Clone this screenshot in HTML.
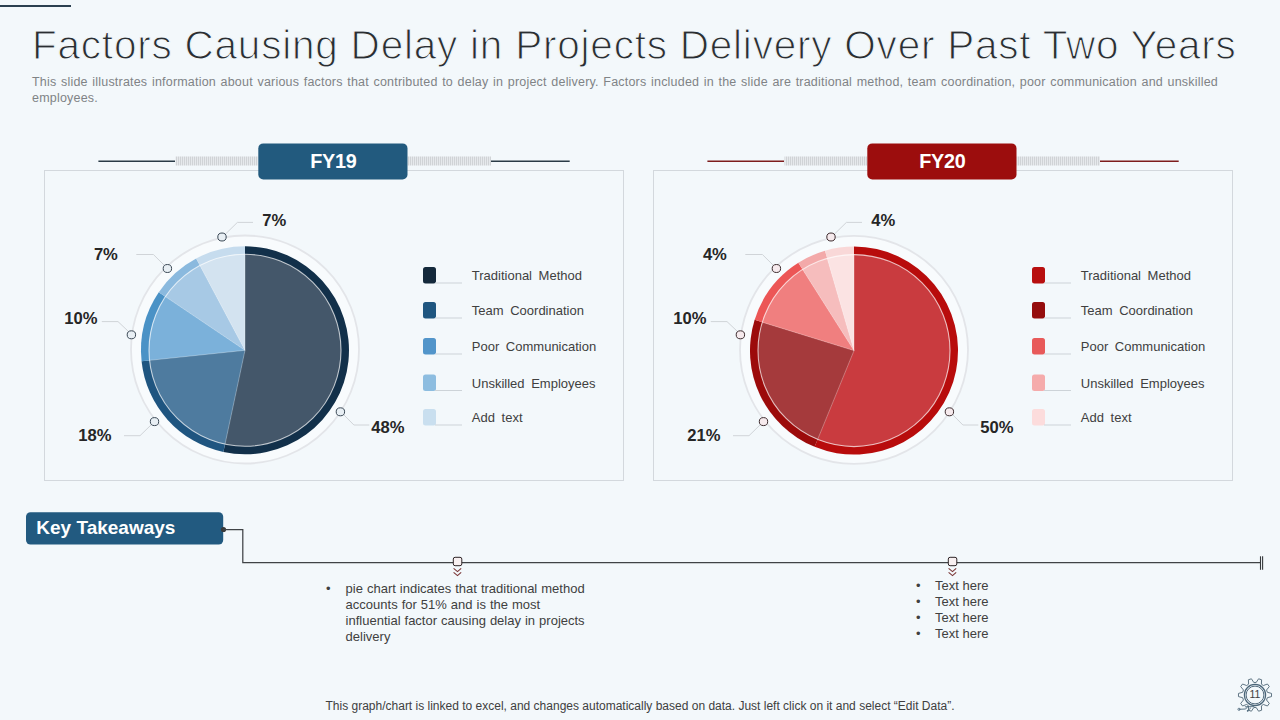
<!DOCTYPE html>
<html><head><meta charset="utf-8"><style>
html,body{margin:0;padding:0;}
body{width:1280px;height:720px;position:relative;overflow:hidden;background:#f3f8fb;font-family:"Liberation Sans",sans-serif;}
.pct{font-family:"Liberation Sans",sans-serif;font-weight:700;font-size:16.6px;fill:#262626;}
.leg{font-family:"Liberation Sans",sans-serif;font-size:13px;fill:#404040;word-spacing:3px;}
.fy{font-family:"Liberation Sans",sans-serif;font-weight:700;font-size:19.8px;letter-spacing:-0.3px;fill:#ffffff;}
.gn{font-family:"Liberation Sans",sans-serif;font-size:10.6px;fill:#404040;}
.kt{font-family:"Liberation Sans",sans-serif;font-weight:700;font-size:19px;fill:#ffffff;}
#title{position:absolute;left:32px;top:20.6px;font-size:40.5px;color:#2a2e32;white-space:nowrap;letter-spacing:0.78px;line-height:48px;-webkit-text-stroke:1.1px #f3f8fb;}
#sub{position:absolute;left:32px;top:75.4px;width:1186px;font-size:12.5px;color:#808386;line-height:15.6px;letter-spacing:0.2px;text-align:justify;text-align-last:left;}
.bl{position:absolute;font-size:13px;color:#404040;line-height:16px;}
.bl .dot{position:absolute;left:0;}
#foot{position:absolute;left:325.5px;top:698.2px;font-size:12px;color:#404040;white-space:nowrap;line-height:16px;}
</style></head><body>
<svg width="1280" height="720" viewBox="0 0 1280 720" style="position:absolute;left:0;top:0">
<defs>
<pattern id="hatch" patternUnits="userSpaceOnUse" width="2" height="9" x="0" y="156.5">
<rect x="0" y="0" width="1" height="9" fill="#d0d3d6"/>
<rect x="1" y="0" width="1" height="9" fill="#e6e9ec"/>
</pattern>
</defs>
<line x1="0" y1="6" x2="71" y2="6" stroke="#2b4050" stroke-width="2"/>
<rect x="44.5" y="170.5" width="579" height="310" fill="none" stroke="#d3d8dd" stroke-width="1"/>
<rect x="653.5" y="170.5" width="579" height="310" fill="none" stroke="#d3d8dd" stroke-width="1"/>
<line x1="98.4" y1="161.3" x2="175" y2="161.3" stroke="#2a3b47" stroke-width="1.4"/>
<line x1="491" y1="161.3" x2="569.7" y2="161.3" stroke="#2a3b47" stroke-width="1.4"/>
<rect x="175.5" y="156.5" width="82.5" height="9" fill="url(#hatch)"/>
<rect x="407.5" y="156.5" width="83.5" height="9" fill="url(#hatch)"/>
<rect x="258.3" y="143.4" width="149.2" height="36.1" rx="5" fill="#225a7e"/>
<text x="333.3" y="167.9" class="fy" text-anchor="middle">FY19</text>
<line x1="707.4" y1="161.3" x2="784" y2="161.3" stroke="#7e1d1d" stroke-width="1.4"/>
<line x1="1100" y1="161.3" x2="1178.7" y2="161.3" stroke="#7e1d1d" stroke-width="1.4"/>
<rect x="784.5" y="156.5" width="82.5" height="9" fill="url(#hatch)"/>
<rect x="1016.5" y="156.5" width="83.5" height="9" fill="url(#hatch)"/>
<rect x="867.3" y="143.4" width="149.2" height="36.1" rx="5" fill="#9c0d0d"/>
<text x="942.3" y="167.9" class="fy" text-anchor="middle">FY20</text>
<circle cx="245" cy="349.5" r="114" fill="#f8fbfd" stroke="#e3e5e9" stroke-width="1.8"/>
<path d="M245.00,350.30 L245.00,246.30 A104,104 0 1 1 223.38,452.03 Z" fill="#12304a"/>
<path d="M245.00,350.30 L223.38,452.03 A104,104 0 0 1 141.57,361.17 Z" fill="#1f5580"/>
<path d="M245.00,350.30 L141.57,361.17 A104,104 0 0 1 158.78,292.14 Z" fill="#4a92c6"/>
<path d="M245.00,350.30 L158.78,292.14 A104,104 0 0 1 196.17,258.47 Z" fill="#8ab9de"/>
<path d="M245.00,350.30 L196.17,258.47 A104,104 0 0 1 245.00,246.30 Z" fill="#c6dcee"/>
<path d="M245.00,350.30 L245.00,254.30 A96,96 0 1 1 225.04,444.20 Z" fill="#44576a"/>
<path d="M245.00,350.30 L225.04,444.20 A96,96 0 0 1 149.53,360.33 Z" fill="#4e7b9f"/>
<path d="M245.00,350.30 L149.53,360.33 A96,96 0 0 1 165.41,296.62 Z" fill="#7bb1da"/>
<path d="M245.00,350.30 L165.41,296.62 A96,96 0 0 1 199.93,265.54 Z" fill="#a7c9e5"/>
<path d="M245.00,350.30 L199.93,265.54 A96,96 0 0 1 245.00,254.30 Z" fill="#d3e3f0"/>
<line x1="245" y1="350.3" x2="245.00" y2="254.30" stroke="#ffffff" stroke-opacity="0.35" stroke-width="0.9"/>
<line x1="245" y1="350.3" x2="225.04" y2="444.20" stroke="#ffffff" stroke-opacity="0.35" stroke-width="0.9"/>
<line x1="245" y1="350.3" x2="149.53" y2="360.33" stroke="#ffffff" stroke-opacity="0.35" stroke-width="0.9"/>
<line x1="245" y1="350.3" x2="165.41" y2="296.62" stroke="#ffffff" stroke-opacity="0.35" stroke-width="0.9"/>
<line x1="245" y1="350.3" x2="199.93" y2="265.54" stroke="#ffffff" stroke-opacity="0.35" stroke-width="0.9"/>
<circle cx="245" cy="350.3" r="96" fill="none" stroke="#ffffff" stroke-opacity="0.7" stroke-width="1.1"/>
<polyline points="253.0,222.4 237.4,222.4 224.5,235.0" fill="none" stroke="#d0d4d8" stroke-width="1"/>
<polyline points="136.3,254.5 153.4,254.5 164.5,265.5" fill="none" stroke="#d0d4d8" stroke-width="1"/>
<polyline points="101.8,321.6 118.0,321.6 128.5,331.5" fill="none" stroke="#d0d4d8" stroke-width="1"/>
<polyline points="124.0,435.7 140.0,435.7 151.5,424.5" fill="none" stroke="#d0d4d8" stroke-width="1"/>
<polyline points="369.3,425.0 353.9,425.0 343.5,414.5" fill="none" stroke="#d0d4d8" stroke-width="1"/>
<ellipse cx="222.0" cy="237.0" rx="4.2" ry="4" fill="#e8eff4" stroke="#3a4855" stroke-width="1"/>
<ellipse cx="167.4" cy="268.5" rx="4.2" ry="4" fill="#e8eff4" stroke="#3a4855" stroke-width="1"/>
<ellipse cx="131.4" cy="334.8" rx="4.2" ry="4" fill="#e8eff4" stroke="#3a4855" stroke-width="1"/>
<ellipse cx="154.5" cy="421.6" rx="4.2" ry="4" fill="#e8eff4" stroke="#3a4855" stroke-width="1"/>
<ellipse cx="340.4" cy="411.8" rx="4.2" ry="4" fill="#e8eff4" stroke="#3a4855" stroke-width="1"/>
<circle cx="854" cy="349.8" r="114" fill="#f8fbfd" stroke="#e3e5e9" stroke-width="1.8"/>
<path d="M854.00,350.60 L854.00,246.60 A104,104 0 1 1 814.63,446.86 Z" fill="#b80c0c"/>
<path d="M854.00,350.60 L814.63,446.86 A104,104 0 0 1 754.65,319.86 Z" fill="#9c0b0b"/>
<path d="M854.00,350.60 L754.65,319.86 A104,104 0 0 1 798.34,262.75 Z" fill="#ec5656"/>
<path d="M854.00,350.60 L798.34,262.75 A104,104 0 0 1 825.02,250.72 Z" fill="#f3a9a9"/>
<path d="M854.00,350.60 L825.02,250.72 A104,104 0 0 1 854.00,246.60 Z" fill="#f9d8d8"/>
<path d="M854.00,350.60 L854.00,254.60 A96,96 0 1 1 817.65,439.45 Z" fill="#c93b3f"/>
<path d="M854.00,350.60 L817.65,439.45 A96,96 0 0 1 762.29,322.23 Z" fill="#a53a3c"/>
<path d="M854.00,350.60 L762.29,322.23 A96,96 0 0 1 802.62,269.51 Z" fill="#f07f7f"/>
<path d="M854.00,350.60 L802.62,269.51 A96,96 0 0 1 827.25,258.40 Z" fill="#f6bdbd"/>
<path d="M854.00,350.60 L827.25,258.40 A96,96 0 0 1 854.00,254.60 Z" fill="#fbe3e3"/>
<line x1="854" y1="350.6" x2="854.00" y2="254.60" stroke="#ffffff" stroke-opacity="0.35" stroke-width="0.9"/>
<line x1="854" y1="350.6" x2="817.65" y2="439.45" stroke="#ffffff" stroke-opacity="0.35" stroke-width="0.9"/>
<line x1="854" y1="350.6" x2="762.29" y2="322.23" stroke="#ffffff" stroke-opacity="0.35" stroke-width="0.9"/>
<line x1="854" y1="350.6" x2="802.62" y2="269.51" stroke="#ffffff" stroke-opacity="0.35" stroke-width="0.9"/>
<line x1="854" y1="350.6" x2="827.25" y2="258.40" stroke="#ffffff" stroke-opacity="0.35" stroke-width="0.9"/>
<circle cx="854" cy="350.6" r="96" fill="none" stroke="#ffffff" stroke-opacity="0.7" stroke-width="1.1"/>
<polyline points="862.0,222.4 846.4,222.4 833.5,235.0" fill="none" stroke="#d0d4d8" stroke-width="1"/>
<polyline points="745.3,254.5 762.4,254.5 773.5,265.5" fill="none" stroke="#d0d4d8" stroke-width="1"/>
<polyline points="710.8,321.6 727.0,321.6 737.5,331.5" fill="none" stroke="#d0d4d8" stroke-width="1"/>
<polyline points="733.0,435.7 749.0,435.7 760.5,424.5" fill="none" stroke="#d0d4d8" stroke-width="1"/>
<polyline points="978.3,425.0 962.9,425.0 952.5,414.5" fill="none" stroke="#d0d4d8" stroke-width="1"/>
<ellipse cx="831.0" cy="237.0" rx="4.2" ry="4" fill="#f6eaed" stroke="#3d2c2f" stroke-width="1"/>
<ellipse cx="776.4" cy="268.5" rx="4.2" ry="4" fill="#f6eaed" stroke="#3d2c2f" stroke-width="1"/>
<ellipse cx="740.4" cy="334.8" rx="4.2" ry="4" fill="#f6eaed" stroke="#3d2c2f" stroke-width="1"/>
<ellipse cx="763.5" cy="421.6" rx="4.2" ry="4" fill="#f6eaed" stroke="#3d2c2f" stroke-width="1"/>
<ellipse cx="949.4" cy="411.8" rx="4.2" ry="4" fill="#f6eaed" stroke="#3d2c2f" stroke-width="1"/>
<text x="262.2" y="226.3" class="pct">7%</text>
<text x="93.9" y="260.1" class="pct">7%</text>
<text x="64.2" y="324.1" class="pct">10%</text>
<text x="78.3" y="441.4" class="pct">18%</text>
<text x="371.3" y="433.3" class="pct">48%</text>
<text x="871.2" y="226.3" class="pct">4%</text>
<text x="702.9" y="260.1" class="pct">4%</text>
<text x="673.2" y="324.1" class="pct">10%</text>
<text x="687.3" y="441.4" class="pct">21%</text>
<text x="980.3" y="433.3" class="pct">50%</text>
<rect x="423" y="267" width="13" height="16.5" rx="2.5" fill="#14293b"/>
<line x1="435" y1="283" x2="462" y2="283" stroke="#cdd3d8" stroke-width="1"/>
<text x="471.8" y="280" class="leg">Traditional Method</text>
<rect x="423" y="302" width="13" height="16.5" rx="2.5" fill="#1f5680"/>
<line x1="435" y1="318" x2="462" y2="318" stroke="#cdd3d8" stroke-width="1"/>
<text x="471.8" y="315" class="leg">Team Coordination</text>
<rect x="423" y="338" width="13" height="16.5" rx="2.5" fill="#5295ca"/>
<line x1="435" y1="354" x2="462" y2="354" stroke="#cdd3d8" stroke-width="1"/>
<text x="471.8" y="351" class="leg">Poor Communication</text>
<rect x="423" y="374.5" width="13" height="16.5" rx="2.5" fill="#8dbde0"/>
<line x1="435" y1="390.5" x2="462" y2="390.5" stroke="#cdd3d8" stroke-width="1"/>
<text x="471.8" y="387.5" class="leg">Unskilled Employees</text>
<rect x="423" y="409" width="13" height="16.5" rx="2.5" fill="#c9dfef"/>
<line x1="435" y1="425" x2="462" y2="425" stroke="#cdd3d8" stroke-width="1"/>
<text x="471.8" y="422" class="leg">Add text</text>
<rect x="1032" y="267" width="13" height="16.5" rx="2.5" fill="#b80f0f"/>
<line x1="1044" y1="283" x2="1071" y2="283" stroke="#cdd3d8" stroke-width="1"/>
<text x="1080.8" y="280" class="leg">Traditional Method</text>
<rect x="1032" y="302" width="13" height="16.5" rx="2.5" fill="#950d0d"/>
<line x1="1044" y1="318" x2="1071" y2="318" stroke="#cdd3d8" stroke-width="1"/>
<text x="1080.8" y="315" class="leg">Team Coordination</text>
<rect x="1032" y="338" width="13" height="16.5" rx="2.5" fill="#e85a5a"/>
<line x1="1044" y1="354" x2="1071" y2="354" stroke="#cdd3d8" stroke-width="1"/>
<text x="1080.8" y="351" class="leg">Poor Communication</text>
<rect x="1032" y="374.5" width="13" height="16.5" rx="2.5" fill="#f5abab"/>
<line x1="1044" y1="390.5" x2="1071" y2="390.5" stroke="#cdd3d8" stroke-width="1"/>
<text x="1080.8" y="387.5" class="leg">Unskilled Employees</text>
<rect x="1032" y="409" width="13" height="16.5" rx="2.5" fill="#fcdcdc"/>
<line x1="1044" y1="425" x2="1071" y2="425" stroke="#cdd3d8" stroke-width="1"/>
<text x="1080.8" y="422" class="leg">Add text</text>
<rect x="26" y="512.2" width="197.2" height="32.3" rx="4.5" fill="#225a80"/>
<text x="36.3" y="533.8" class="kt">Key Takeaways</text>
<circle cx="223.5" cy="529.5" r="2.6" fill="#3a3a3a"/>
<polyline points="223,529.5 242.8,529.5 242.8,562.5 1260.5,562.5" fill="none" stroke="#404346" stroke-width="1.25"/>
<line x1="1260.5" y1="556.3" x2="1260.5" y2="569.8" stroke="#35383b" stroke-width="1.1"/>
<line x1="1262.6" y1="556.3" x2="1262.6" y2="569.8" stroke="#35383b" stroke-width="1.1"/>
<rect x="453.3" y="557.3" width="8.5" height="8.4" rx="1.8" fill="#f8f0f1" stroke="#2e2426" stroke-width="1"/>
<polyline points="453.6,568.3 457.5,571.6 461.2,568.3" fill="none" stroke="#7a3636" stroke-width="1.1"/>
<polyline points="453.6,572.3 457.5,575.6 461.2,572.3" fill="none" stroke="#7a3636" stroke-width="1.1"/>
<rect x="948.3" y="557.3" width="8.5" height="8.4" rx="1.8" fill="#f8f0f1" stroke="#2e2426" stroke-width="1"/>
<polyline points="948.6,568.3 952.5,571.6 956.2,568.3" fill="none" stroke="#7a3636" stroke-width="1.1"/>
<polyline points="948.6,572.3 952.5,575.6 956.2,572.3" fill="none" stroke="#7a3636" stroke-width="1.1"/>
</svg>
<div id="title">Factors Causing Delay in Projects Delivery Over Past Two Years</div>
<div id="sub">This slide illustrates information about various factors that contributed to delay in project delivery. Factors included in the slide are traditional method, team coordination, poor communication and unskilled employees.</div>
<div class="bl" style="left:326px;top:581px;width:272px;word-spacing:0.4px;">
<span class="dot">•</span><div style="margin-left:19.6px;">pie chart indicates that traditional method accounts for 51% and is the most influential factor causing delay in projects delivery</div></div>
<div class="bl" style="left:916px;top:578px;width:120px;">
<div><span class="dot">•</span><span style="margin-left:19px">Text here</span></div>
<div><span class="dot">•</span><span style="margin-left:19px">Text here</span></div>
<div><span class="dot">•</span><span style="margin-left:19px">Text here</span></div>
<div><span class="dot">•</span><span style="margin-left:19px">Text here</span></div>
</div>
<div id="foot">This graph/chart is linked to excel, and changes automatically based on data. Just left click on it and select “Edit Data”.</div>
<svg width="40" height="40" viewBox="0 0 40 40" style="position:absolute;left:1235px;top:675px">
<path d="M21.21,7.46 L23.59,3.79 L26.62,4.78 L26.39,9.14 L28.35,10.56 L32.43,9.00 L34.30,11.57 L31.55,14.98 L32.30,17.27 L36.52,18.41 L36.52,21.59 L32.30,22.73 L31.55,25.02 L34.30,28.43 L32.43,31.00 L28.35,29.44 L26.39,30.86 L26.62,35.22 L23.59,36.21 L21.21,32.54 L18.79,32.54 L16.41,36.21 L13.38,35.22 L13.61,30.86 L11.65,29.44 L7.57,31.00 L5.70,28.43 L8.45,25.02 L7.70,22.73 L3.48,21.59 L3.48,18.41 L7.70,17.27 L8.45,14.98 L5.70,11.57 L7.57,9.00 L11.65,10.56 L13.61,9.14 L13.38,4.78 L16.41,3.79 L18.79,7.46 Z" fill="none" stroke="#4f6676" stroke-width="0.9" stroke-linejoin="round"/>
<circle cx="20" cy="20" r="10.6" fill="#f3f8fb" stroke="#4a6578" stroke-width="1.2"/>
<circle cx="20" cy="20" r="8.9" fill="#f3f8fb" stroke="#3f5a6e" stroke-width="0.9"/>
<path d="M4,34.3 L10.7,34 L13,31.2 M9.9,31.8 L19.3,31.6 M12.7,35.8 L15.9,32.8" fill="none" stroke="#4a6578" stroke-width="0.9"/>
<circle cx="4" cy="34.3" r="1.1" fill="none" stroke="#4a6578" stroke-width="0.8"/><circle cx="12.7" cy="35.8" r="0.9" fill="#4a6578"/>
<text x="20" y="22.9" text-anchor="middle" class="gn">11</text>
</svg>
</body></html>
